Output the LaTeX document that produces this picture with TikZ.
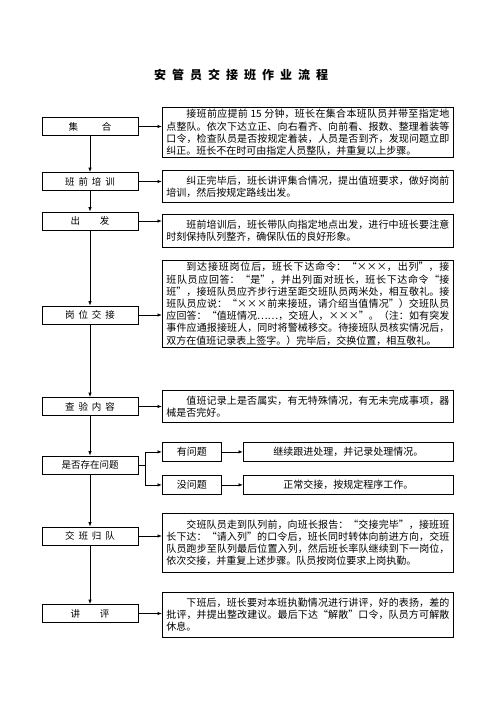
\documentclass[tikz,border=0pt]{standalone}
\usepackage{fontspec}
\setmainfont{Noto Sans CJK SC}
\usepackage{tikz}
\usetikzlibrary{arrows.meta}
\XeTeXlinebreaklocale "zh"
\XeTeXlinebreakskip = 0pt plus 1pt
\newcommand{\ws}{\hspace{4pt}}

\begin{document}
\begin{tikzpicture}[x=1pt, y=-1pt, line width=0.8pt,
    every node/.style={font=\fontsize{10}{12.2}\selectfont},
    stage/.style={draw, rectangle, minimum width=96pt, minimum height=18pt, inner sep=0pt, font=\fontsize{9.5}{11}\selectfont},
    note/.style={draw, rectangle, anchor=north west, text width=283pt, inner xsep=4pt, inner ysep=2pt, align=justify},
    tag/.style={draw, rectangle, anchor=north west, minimum width=59pt, minimum height=19pt, inner sep=0pt},
    result/.style={draw, rectangle, anchor=north west, minimum width=210pt, minimum height=19pt, inner sep=0pt},
    flow/.style={-{Latex[length=4.5pt, width=3.5pt]}}]
    \useasboundingbox (0,0) rectangle (496,702);

    % Title
    \node[font=\bfseries\fontsize{12}{14}\selectfont] (title) at (241,75) {安\hspace{6pt}管\hspace{6pt}员\hspace{6pt}交\hspace{6pt}接\hspace{6pt}班\hspace{6pt}作\hspace{6pt}业\hspace{6pt}流\hspace{6pt}程};

    % 集合
    \node[stage] (c1) at (90,126.5) {集\hspace{24pt}合};
    \node[note, minimum height=48pt] (d1) at (162,107) {\hspace*{2em}接班前应提前 15 分钟，班长在集合本班队员并带至指定地点整队。依次下达立正、向右看齐、向前看、报数、整理着装等口令，检查队员是否按规定着装，人员是否到齐，发现问题立即纠正。班长不在时可由指定人员整队，并重复以上步骤。};

    % 班前培训
    \node[stage] (c2) at (90,181.5) {班\ws 前\ws 培\ws 训};
    \node[note, minimum height=32pt] (d2) at (162,170) {\hspace*{2em}纠正完毕后，班长讲评集合情况，提出值班要求，做好岗前培训，然后按规定路线出发。};

    % 出发
    \node[stage] (c3) at (90,221) {出\hspace{20pt}发};
    \node[note, minimum height=33pt] (d3) at (162,214) {\hspace*{2em}班前培训后，班长带队向指定地点出发，进行中班长要注意时刻保持队列整齐，确保队伍的良好形象。};

    % 岗位交接
    \node[stage] (c4) at (90,315) {岗\ws 位\ws 交\ws 接};
    \node[note] (d4) at (162,260) {\hspace*{2em}到达接班岗位后，班长下达命令：“×××，出列”，接班队员应回答：“是”，并出列面对班长，班长下达命令“接班”，接班队员应齐步行进至距交班队员两米处，相互敬礼。接班队员应说：“×××前来接班，请介绍当值情况”）交班队员应回答：“值班情况……，交班人，×××”。（注：如有突发事件应通报接班人，同时将警械移交。待接班队员核实情况后，双方在值班记录表上签字。）完毕后，交换位置，相互敬礼。\par\vspace{18pt}};

    % 查验内容
    \node[stage] (c5) at (90,406.5) {查\ws 验\ws 内\ws 容};
    \node[note, minimum height=32pt] (d5) at (162,390) {\hspace*{2em}值班记录上是否属实，有无特殊情况，有无未完成事项，器械是否完好。};

    % 是否存在问题
    \node[stage] (c6) at (90,465) {是否存在问题};
    \node[tag] (q1) at (162,442) {有问题};
    \node[tag] (q2) at (162,475) {没问题};
    \node[result] (r1) at (243,442) {继续跟进处理，并记录处理情况。};
    \node[result] (r2) at (243,475) {正常交接，按规定程序工作。};

    % 交班归队
    \node[stage] (c7) at (90,536) {交\ws 班\ws 归\ws 队};
    \node[note, minimum height=59pt] (d6) at (162,513) {\hspace*{2em}交班队员走到队列前，向班长报告：“交接完毕”，接班班长下达：“请入列”的口令后，班长同时转体向前进方向，交班队员跑步至队列最后位置入列，然后班长率队继续到下一岗位，依次交接，并重复上述步骤。队员按岗位要求上岗执勤。};

    % 讲评
    \node[stage] (c8) at (90,613.5) {讲\hspace{20pt}评};
    \node[note, minimum height=45pt] (d7) at (162,592) {\hspace*{2em}下班后，班长要对本班执勤情况进行讲评，好的表扬，差的批评，并提出整改建议。最后下达“解散”口令，队员方可解散休息。};

    % connectors
    \foreach \a/\b in {c1/c2, c2/c3, c3/c4, c4/c5, c5/c6, c6/c7, c7/c8}
        \draw[flow] (\a) -- (\b);
    \foreach \a/\b in {c1/d1, c2/d2, c3/d3, c4/d4, c5/d5, c7/d6, c8/d7}
        \draw[flow] (\a.east) -- (\a.east -| \b.west);
    \draw (c6.east) -- ++(7,0) coordinate (fork);
    \draw[flow] (fork) |- (q1);
    \draw[flow] (fork) |- (q2);
    \draw[flow] (q1) -- (r1);
    \draw[flow] (q2) -- (r2);
\end{tikzpicture}
\end{document}
